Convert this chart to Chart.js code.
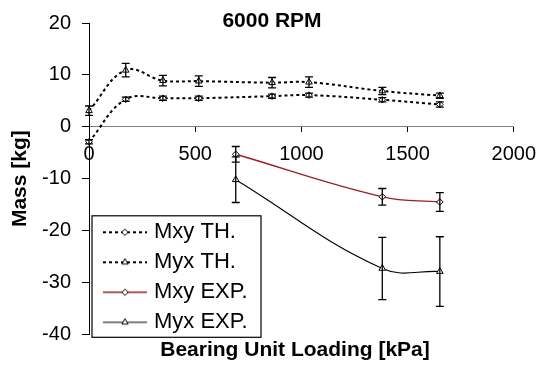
<!DOCTYPE html>
<html>
<head>
<meta charset="utf-8">
<script src="https://cdn.jsdelivr.net/npm/chart.js@4/dist/chart.umd.min.js"></script>
<style>
html,body{margin:0;padding:0;background:#fff;}
canvas{display:block;}
</style>
</head>
<body>
<canvas id="c" width="547" height="370"></canvas>
<script>
// ---- data ----
const loadTH = [0, 173, 348, 517, 862, 1036, 1381, 1652];
const mxyTH = [-2.9, 5.3, 5.5, 5.5, 5.9, 6.1, 5.2, 4.3];
const mxyTHErr = [0.4, 0.4, 0.4, 0.4, 0.4, 0.4, 0.4, 0.5];
const myxTH = [3.1, 10.9, 8.9, 8.8, 8.5, 8.6, 6.9, 6.0];
const myxTHErr = [0.9, 1.3, 1.0, 1.0, 1.0, 1.0, 0.7, 0.5];

const loadEXP = [691, 1381, 1652];
const mxyEXP = [-5.3, -13.5, -14.5];
const mxyEXPErr = [1.5, 1.6, 1.8];
const myxEXP = [-10.2, -27.3, -27.9];
const myxEXPErr = [4.4, 6.0, 6.7];

const seriesLabels = ['Mxy TH.', 'Myx TH.', 'Mxy EXP.', 'Myx EXP.'];
const xTicks = [0, 500, 1000, 1500, 2000];
const yTicks = [-40, -30, -20, -10, 0, 10, 20];
const titleText = '6000 RPM';
const xTitle = 'Bearing Unit Loading [kPa]';
const yTitle = 'Mass [kg]';

const RED = '#9E1F22';
const FONT = '"Liberation Sans", Arial, sans-serif';
Chart.defaults.font.family = FONT;
Chart.defaults.color = '#000';

const pts = (xs, ys) => xs.map((x, i) => ({x: x, y: ys[i]}));

const styles = [
  {pointStyle: 'rectRot', color: '#000', dash: [3, 3], width: 2},
  {pointStyle: 'triangle', color: '#000', dash: [3, 3], width: 2},
  {pointStyle: 'rectRot', color: RED, dash: [], width: 1.4},
  {pointStyle: 'triangle', color: '#000', dash: [], width: 1.1}
];

function makeIcon(st) {
  const cv = document.createElement('canvas');
  cv.width = 56; cv.height = 14;
  const g = cv.getContext('2d');
  g.strokeStyle = st.color; g.lineWidth = st.width; g.setLineDash(st.dash);
  g.beginPath(); g.moveTo(11, 7); g.lineTo(55, 7); g.stroke();
  g.setLineDash([]);
  g.fillStyle = '#fff'; g.strokeStyle = '#000'; g.lineWidth = 1;
  Chart.helpers.drawPoint(g, {pointStyle: st.pointStyle, radius: st.pointStyle === 'triangle' ? 3.6 : 3.2, borderWidth: 1, rotation: 0}, 33, 7);
  return cv;
}
const icons = styles.map(makeIcon);

function ds(i, xs, ys, errs) {
  const st = styles[i];
  return {
    label: seriesLabels[i],
    data: pts(xs, ys),
    errors: errs,
    borderColor: st.color,
    borderWidth: st.width,
    borderDash: st.dash,
    tension: 0.4,
    fill: false,
    clip: false,
    pointStyle: st.pointStyle,
    pointRadius: st.pointStyle === 'triangle' ? 3.8 : 3.3,
    pointBackgroundColor: '#fff',
    pointBorderColor: '#000',
    pointBorderWidth: 1
  };
}

const LEG_DY = 30;

const errorBars = {
  id: 'errorBars',
  afterDatasetsDraw(chart) {
    const ctx = chart.ctx, ys = chart.scales.y;
    chart.data.datasets.forEach((d, i) => {
      const meta = chart.getDatasetMeta(i);
      if (!d.errors || meta.hidden) return;
      ctx.save();
      ctx.strokeStyle = '#000'; ctx.lineWidth = 1.3; ctx.setLineDash([]);
      meta.data.forEach((p, j) => {
        const v = d.data[j].y, e = d.errors[j];
        const y1 = ys.getPixelForValue(v + e), y2 = ys.getPixelForValue(v - e);
        ctx.beginPath();
        ctx.moveTo(p.x, y1); ctx.lineTo(p.x, y2);
        ctx.moveTo(p.x - 4, y1); ctx.lineTo(p.x + 4, y1);
        ctx.moveTo(p.x - 4, y2); ctx.lineTo(p.x + 4, y2);
        ctx.stroke();
      });
      ctx.restore();
    });
  }
};

const extras = {
  id: 'extras',
  afterLayout(chart) {
    chart.legend.top += LEG_DY; chart.legend.bottom += LEG_DY;
  },
  afterDraw(chart) {
    const ctx = chart.ctx, ca = chart.chartArea;
    const lg = chart.legend, hb = lg.legendHitBoxes;
    ctx.save();
    // legend frame (hit boxes already include the shift)
    const r0 = hb[0].top + 11, r3 = hb[hb.length - 1].top + 11;
    const top = r0 - 16.5, bottom = r3 + 15;
    ctx.strokeStyle = '#000'; ctx.lineWidth = 1.2;
    ctx.strokeRect(ca.left + 3, top, 169, bottom - top);
    // titles
    ctx.fillStyle = '#000';
    ctx.textAlign = 'center'; ctx.textBaseline = 'alphabetic';
    ctx.font = 'bold 21px ' + FONT;
    ctx.fillText(titleText, 272, 26.7);
    ctx.fillText(xTitle, 295, 355.5);
    ctx.restore();
  }
};

new Chart(document.getElementById('c'), {
  type: 'line',
  data: {
    datasets: [
      ds(0, loadTH, mxyTH, mxyTHErr),
      ds(1, loadTH, myxTH, myxTHErr),
      ds(2, loadEXP, mxyEXP, mxyEXPErr),
      ds(3, loadEXP, myxEXP, myxEXPErr)
    ]
  },
  options: {
    responsive: false,
    animation: false,
    devicePixelRatio: 1,
    layout: {padding: {left: 0, right: 33, top: 16.7, bottom: 35.7}},
    scales: {
      x: {
        type: 'linear',
        min: xTicks[0], max: xTicks[xTicks.length - 1],
        position: {y: 0},
        afterBuildTicks(s) { s.ticks = xTicks.map(v => ({value: v})); },
        ticks: {font: {size: 20}, color: '#000', padding: 11, maxRotation: 0, callback: v => String(v)},
        grid: {display: true, drawOnChartArea: false, drawTicks: true, tickLength: 5, color: '#000'},
        border: {display: true, color: '#808080', width: 1}
      },
      y: {
        type: 'linear',
        min: yTicks[0], max: yTicks[yTicks.length - 1],
        afterBuildTicks(s) { s.ticks = yTicks.map(v => ({value: v})); },
        afterFit(s) { s.width = 89; },
        ticks: {font: {size: 20}, color: '#000', padding: 11, callback: v => String(v)},
        grid: {display: true, drawOnChartArea: false, drawTicks: true, tickLength: 7, color: '#000'},
        border: {display: true, color: '#000', width: 1},
        title: {display: true, text: yTitle, font: {size: 21, weight: 'bold'}, color: '#000', padding: {top: 8, bottom: 0}}
      }
    },
    plugins: {
      title: {display: false},
      tooltip: {enabled: false},
      legend: {
        display: true,
        position: 'chartArea',
        align: 'end',
        labels: {
          usePointStyle: true,
          pointStyleWidth: 46,
          padding: 8,
          color: '#000',
          font: {size: 22},
          generateLabels(chart) {
            return chart.data.datasets.map((d, i) => ({
              text: d.label, pointStyle: icons[i], fillStyle: '#fff', strokeStyle: '#000',
              lineWidth: 0, hidden: false, datasetIndex: i, fontColor: '#000'
            }));
          }
        }
      }
    }
  },
  plugins: [errorBars, extras]
});
</script>
</body>
</html>
